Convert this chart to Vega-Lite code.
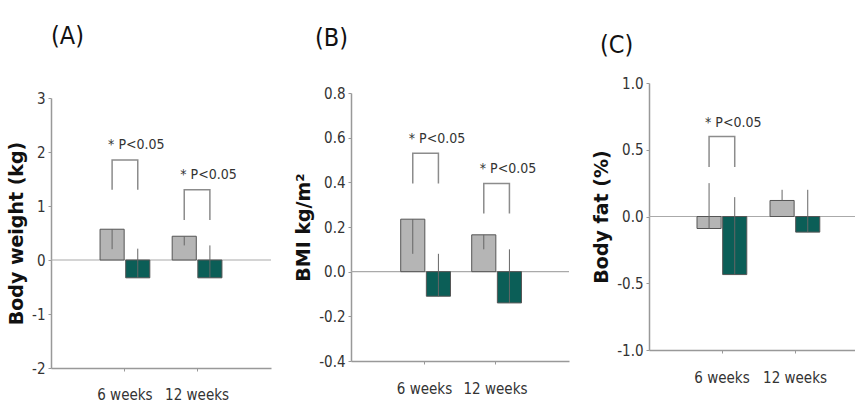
{
  "$schema": "https://vega.github.io/schema/vega-lite/v6.json",
  "background": "white",
  "padding": {"left": 7, "top": 24, "right": 0, "bottom": 0},
  "spacing": 22,
  "align": "none",
  "datasets": {
    "bars": [
      {"panel": "A", "week": "6 weeks", "group": "Control", "value": 0.57, "err": 0.2},
      {"panel": "A", "week": "6 weeks", "group": "Intervention", "value": -0.33, "err": 0.21},
      {"panel": "A", "week": "12 weeks", "group": "Control", "value": 0.44, "err": 0.27},
      {"panel": "A", "week": "12 weeks", "group": "Intervention", "value": -0.33, "err": 0.27},
      {"panel": "B", "week": "6 weeks", "group": "Control", "value": 0.235, "err": 0.08},
      {"panel": "B", "week": "6 weeks", "group": "Intervention", "value": -0.11, "err": 0.08},
      {"panel": "B", "week": "12 weeks", "group": "Control", "value": 0.165, "err": 0.1},
      {"panel": "B", "week": "12 weeks", "group": "Intervention", "value": -0.14, "err": 0.1},
      {"panel": "C", "week": "6 weeks", "group": "Control", "value": -0.09, "err": 0.25},
      {"panel": "C", "week": "6 weeks", "group": "Intervention", "value": -0.435, "err": 0.145},
      {"panel": "C", "week": "12 weeks", "group": "Control", "value": 0.12, "err": 0.2},
      {"panel": "C", "week": "12 weeks", "group": "Intervention", "value": -0.117, "err": 0.2}
    ],
    "brackets": [
      {"panel": "A", "week": "6 weeks", "group": "Control", "value": 1.3, "ord": 1},
      {"panel": "A", "week": "6 weeks", "group": "Control", "value": 1.85, "ord": 2},
      {"panel": "A", "week": "6 weeks", "group": "Intervention", "value": 1.85, "ord": 3},
      {"panel": "A", "week": "6 weeks", "group": "Intervention", "value": 1.3, "ord": 4},
      {"panel": "A", "week": "12 weeks", "group": "Control", "value": 0.74, "ord": 1},
      {"panel": "A", "week": "12 weeks", "group": "Control", "value": 1.3, "ord": 2},
      {"panel": "A", "week": "12 weeks", "group": "Intervention", "value": 1.3, "ord": 3},
      {"panel": "A", "week": "12 weeks", "group": "Intervention", "value": 0.74, "ord": 4},
      {"panel": "B", "week": "6 weeks", "group": "Control", "value": 0.395, "ord": 1},
      {"panel": "B", "week": "6 weeks", "group": "Control", "value": 0.53, "ord": 2},
      {"panel": "B", "week": "6 weeks", "group": "Intervention", "value": 0.53, "ord": 3},
      {"panel": "B", "week": "6 weeks", "group": "Intervention", "value": 0.395, "ord": 4},
      {"panel": "B", "week": "12 weeks", "group": "Control", "value": 0.26, "ord": 1},
      {"panel": "B", "week": "12 weeks", "group": "Control", "value": 0.395, "ord": 2},
      {"panel": "B", "week": "12 weeks", "group": "Intervention", "value": 0.395, "ord": 3},
      {"panel": "B", "week": "12 weeks", "group": "Intervention", "value": 0.26, "ord": 4},
      {"panel": "C", "week": "6 weeks", "group": "Control", "value": 0.37, "ord": 1},
      {"panel": "C", "week": "6 weeks", "group": "Control", "value": 0.6, "ord": 2},
      {"panel": "C", "week": "6 weeks", "group": "Intervention", "value": 0.6, "ord": 3},
      {"panel": "C", "week": "6 weeks", "group": "Intervention", "value": 0.37, "ord": 4}
    ],
    "notes": [
      {"panel": "A", "week": "6 weeks", "group": "Control", "value": 2.05, "label": "* P<0.05"},
      {"panel": "A", "week": "12 weeks", "group": "Control", "value": 1.5, "label": "* P<0.05"},
      {"panel": "B", "week": "6 weeks", "group": "Control", "value": 0.578, "label": "* P<0.05"},
      {"panel": "B", "week": "12 weeks", "group": "Control", "value": 0.44, "label": "* P<0.05"},
      {"panel": "C", "week": "6 weeks", "group": "Control", "value": 0.67, "label": "* P<0.05"}
    ]
  },
  "hconcat": [
    {
      "width": 220, "height": 285,
      "title": {"text": "(A)", "dx": 0, "offset": 34},
      "layer": [
        {"data": {"values": [{}]}, "mark": {"type": "rule", "color": "#aaaaaa", "strokeWidth": 1.2}, "encoding": {"y": {"datum": 0, "type": "quantitative"}}},
        {"data": {"name": "bars"}, "transform": [{"filter": "datum.panel === 'A'"}],
         "mark": {"type": "bar", "stroke": "#555555", "strokeWidth": 1},
         "encoding": {
           "x": {"field": "week", "type": "nominal", "sort": ["6 weeks", "12 weeks"], "scale": {"paddingInner": 0.31, "paddingOuter": 0.68}, "axis": {"title": null, "labelAngle": 0, "labelPadding": 16}},
           "xOffset": {"field": "group", "type": "nominal", "sort": ["Control", "Intervention"], "scale": {"paddingInner": 0.06}},
           "y": {"field": "value", "type": "quantitative", "scale": {"domain": [-2, 3], "nice": false, "zero": false, "range": [285, 15]}, "axis": {"title": "Body weight (kg)", "values": [-2, -1, 0, 1, 2, 3], "format": "d", "labelExpr": "replace(datum.label, '−', '-')"}},
           "color": {"field": "group", "type": "nominal", "scale": {"domain": ["Control", "Intervention"], "range": ["#b5b5b5", "#0b5e57"]}, "legend": null}
         }},
        {"data": {"name": "bars"}, "transform": [{"filter": "datum.panel === 'A'"}],
         "mark": {"type": "rule", "color": "#666666", "strokeWidth": 1},
         "encoding": {
           "x": {"field": "week", "type": "nominal", "sort": ["6 weeks", "12 weeks"]},
           "xOffset": {"field": "group", "type": "nominal", "sort": ["Control", "Intervention"]},
           "y": {"field": "value", "type": "quantitative"}, "y2": {"field": "err"}
         }},
        {"data": {"name": "brackets"}, "transform": [{"filter": "datum.panel === 'A'"}],
         "mark": {"type": "line", "color": "#8c8c8c", "strokeWidth": 1.5},
         "encoding": {
           "x": {"field": "week", "type": "nominal", "sort": ["6 weeks", "12 weeks"]},
           "xOffset": {"field": "group", "type": "nominal", "sort": ["Control", "Intervention"]},
           "y": {"field": "value", "type": "quantitative"},
           "detail": {"field": "week"}, "order": {"field": "ord"}
         }},
        {"data": {"name": "notes"}, "transform": [{"filter": "datum.panel === 'A'"}],
         "mark": {"type": "text", "align": "left", "baseline": "alphabetic", "dx": -4, "font": "DejaVu Sans Condensed", "fontSize": 14, "color": "#333333"},
         "encoding": {
           "x": {"field": "week", "type": "nominal", "sort": ["6 weeks", "12 weeks"]},
           "xOffset": {"field": "group", "type": "nominal", "sort": ["Control", "Intervention"]},
           "y": {"field": "value", "type": "quantitative"},
           "text": {"field": "label"}
         }}
      ]
    },
    {
      "width": 218, "height": 278,
      "title": {"text": "(B)", "dx": -36, "offset": 32},
      "layer": [
        {"data": {"values": [{}]}, "mark": {"type": "rule", "color": "#aaaaaa", "strokeWidth": 1.2}, "encoding": {"y": {"datum": 0, "type": "quantitative"}}},
        {"data": {"name": "bars"}, "transform": [{"filter": "datum.panel === 'B'"}],
         "mark": {"type": "bar", "stroke": "#555555", "strokeWidth": 1},
         "encoding": {
           "x": {"field": "week", "type": "nominal", "sort": ["6 weeks", "12 weeks"], "scale": {"paddingInner": 0.33, "paddingOuter": 0.7}, "axis": {"title": null, "labelAngle": 0, "labelPadding": 17}},
           "xOffset": {"field": "group", "type": "nominal", "sort": ["Control", "Intervention"], "scale": {"paddingInner": 0.1}},
           "y": {"field": "value", "type": "quantitative", "scale": {"domain": [-0.4, 0.8], "nice": false, "zero": false, "range": [278, 10]}, "axis": {"title": "BMI kg/m²", "values": [-0.4, -0.2, 0, 0.2, 0.4, 0.6, 0.8], "format": ".1f", "labelExpr": "replace(datum.label, '−', '-')"}},
           "color": {"field": "group", "type": "nominal", "scale": {"domain": ["Control", "Intervention"], "range": ["#b5b5b5", "#0b5e57"]}, "legend": null}
         }},
        {"data": {"name": "bars"}, "transform": [{"filter": "datum.panel === 'B'"}],
         "mark": {"type": "rule", "color": "#666666", "strokeWidth": 1},
         "encoding": {
           "x": {"field": "week", "type": "nominal", "sort": ["6 weeks", "12 weeks"]},
           "xOffset": {"field": "group", "type": "nominal", "sort": ["Control", "Intervention"]},
           "y": {"field": "value", "type": "quantitative"}, "y2": {"field": "err"}
         }},
        {"data": {"name": "brackets"}, "transform": [{"filter": "datum.panel === 'B'"}],
         "mark": {"type": "line", "color": "#8c8c8c", "strokeWidth": 1.5},
         "encoding": {
           "x": {"field": "week", "type": "nominal", "sort": ["6 weeks", "12 weeks"]},
           "xOffset": {"field": "group", "type": "nominal", "sort": ["Control", "Intervention"]},
           "y": {"field": "value", "type": "quantitative"},
           "detail": {"field": "week"}, "order": {"field": "ord"}
         }},
        {"data": {"name": "notes"}, "transform": [{"filter": "datum.panel === 'B'"}],
         "mark": {"type": "text", "align": "left", "baseline": "alphabetic", "dx": -4, "font": "DejaVu Sans Condensed", "fontSize": 14, "color": "#333333"},
         "encoding": {
           "x": {"field": "week", "type": "nominal", "sort": ["6 weeks", "12 weeks"]},
           "xOffset": {"field": "group", "type": "nominal", "sort": ["Control", "Intervention"]},
           "y": {"field": "value", "type": "quantitative"},
           "text": {"field": "label"}
         }}
      ]
    },
    {
      "width": 208, "height": 267,
      "title": {"text": "(C)", "dx": -49, "offset": 18},
      "layer": [
        {"data": {"values": [{}]}, "mark": {"type": "rule", "color": "#aaaaaa", "strokeWidth": 1.2}, "encoding": {"y": {"datum": 0, "type": "quantitative"}}},
        {"data": {"name": "bars"}, "transform": [{"filter": "datum.panel === 'C'"}],
         "mark": {"type": "bar", "stroke": "#555555", "strokeWidth": 1},
         "encoding": {
           "x": {"field": "week", "type": "nominal", "sort": ["6 weeks", "12 weeks"], "scale": {"paddingInner": 0.315, "paddingOuter": 0.582, "align": 0.565}, "axis": {"title": null, "labelAngle": 0, "labelPadding": 17}},
           "xOffset": {"field": "group", "type": "nominal", "sort": ["Control", "Intervention"], "scale": {"paddingInner": 0.06}},
           "y": {"field": "value", "type": "quantitative", "scale": {"domain": [-1, 1], "nice": false, "zero": false}, "axis": {"title": "Body fat (%)", "values": [-1, -0.5, 0, 0.5, 1], "format": ".1f", "labelExpr": "replace(datum.label, '−', '-')"}},
           "color": {"field": "group", "type": "nominal", "scale": {"domain": ["Control", "Intervention"], "range": ["#b5b5b5", "#0b5e57"]}, "legend": null}
         }},
        {"data": {"name": "bars"}, "transform": [{"filter": "datum.panel === 'C'"}],
         "mark": {"type": "rule", "color": "#666666", "strokeWidth": 1},
         "encoding": {
           "x": {"field": "week", "type": "nominal", "sort": ["6 weeks", "12 weeks"]},
           "xOffset": {"field": "group", "type": "nominal", "sort": ["Control", "Intervention"]},
           "y": {"field": "value", "type": "quantitative"}, "y2": {"field": "err"}
         }},
        {"data": {"name": "brackets"}, "transform": [{"filter": "datum.panel === 'C'"}],
         "mark": {"type": "line", "color": "#8c8c8c", "strokeWidth": 1.5},
         "encoding": {
           "x": {"field": "week", "type": "nominal", "sort": ["6 weeks", "12 weeks"]},
           "xOffset": {"field": "group", "type": "nominal", "sort": ["Control", "Intervention"]},
           "y": {"field": "value", "type": "quantitative"},
           "detail": {"field": "week"}, "order": {"field": "ord"}
         }},
        {"data": {"name": "notes"}, "transform": [{"filter": "datum.panel === 'C'"}],
         "mark": {"type": "text", "align": "left", "baseline": "alphabetic", "dx": -4, "font": "DejaVu Sans Condensed", "fontSize": 14, "color": "#333333"},
         "encoding": {
           "x": {"field": "week", "type": "nominal", "sort": ["6 weeks", "12 weeks"]},
           "xOffset": {"field": "group", "type": "nominal", "sort": ["Control", "Intervention"]},
           "y": {"field": "value", "type": "quantitative"},
           "text": {"field": "label"}
         }}
      ]
    }
  ],
  "config": {
    "view": {"stroke": null},
    "axis": {"domainColor": "#999999", "domainWidth": 1.5, "tickColor": "#999999", "tickSize": 3, "grid": false,
             "labelFont": "DejaVu Sans Condensed", "labelFontSize": 15, "labelColor": "#333333", "labelPadding": 3,
             "titleFont": "DejaVu Sans", "titleFontWeight": "bold", "titleFontSize": 19, "titleColor": "#111111"},
    "axisY": {"titlePadding": 5},
    "title": {"font": "DejaVu Sans Condensed", "fontSize": 25, "fontWeight": "normal", "color": "#111111", "anchor": "start", "frame": "group"}
  }
}
